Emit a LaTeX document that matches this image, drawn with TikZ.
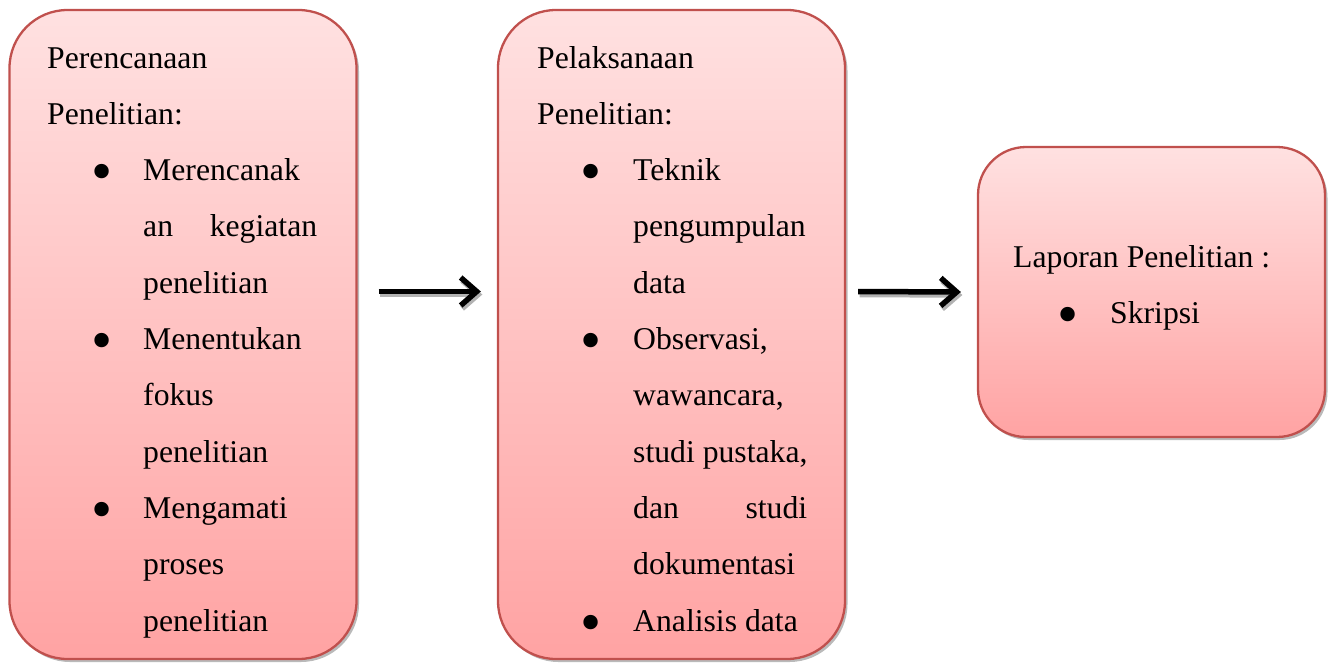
\documentclass[tikz,border=0pt]{standalone}
\usepackage{fontspec}
\setmainfont{Liberation Serif}
\usetikzlibrary{arrows.meta,shadows}
\definecolor{boxtop}{RGB}{255,225,225}
\definecolor{boxbottom}{RGB}{255,163,163}
\definecolor{boxline}{RGB}{192,80,77}
\tikzset{
  stagebox/.style={rounded corners=58pt, draw=boxline, line width=2.3pt,
    top color=boxtop, bottom color=boxbottom, minimum width=347pt, inner sep=0pt,
    drop shadow={shadow xshift=2.5pt, shadow yshift=-3pt, fill=black!45, opacity=.6}},
  flow/.style={line width=5.5pt, -{Straight Barb[length=16pt,width=28pt]}},
  flowshadow/.style={flow, draw=black!30},
  textline/.style={anchor=base west, inner sep=0pt},
  bulletdot/.style={anchor=base, inner sep=0pt}
}
\newcommand{\bigdot}{\scalebox{1.9}{•}}
\begin{document}
\begin{tikzpicture}[x=1pt,y=-1pt,font=\fontsize{31.7pt}{38pt}\selectfont]
\useasboundingbox (0,0) rectangle (1332,664);
% Draw the three stages
\node[stagebox, minimum height=649pt] (plan) at (183,334.5) {};
\node[stagebox, minimum height=649pt] (work) at (671.5,334.5) {};
\node[stagebox, minimum height=290pt, rounded corners=48pt] (report) at (1151.5,292) {};
% Draw the lines of the first stage
\foreach \i/\t in {0/Perencanaan, 1/Penelitian:}
  \node[textline] (plan\i) at (47,{68+56.3*\i}) {\t};
\foreach \i/\t in {2/Merencanak, 3/{\hbox to 174pt{an\hfill kegiatan}}, 4/penelitian,
    5/Menentukan, 6/fokus, 7/penelitian, 8/Mengamati, 9/proses, 10/penelitian}
  \node[textline] (plan\i) at (143,{68+56.3*\i}) {\t};
\foreach \i in {2,5,8}
  \node[bulletdot] (plandot\i) at (102,{79+56.3*\i}) {\bigdot};
% Draw the lines of the second stage
\foreach \i/\t in {0/Pelaksanaan, 1/Penelitian:}
  \node[textline] (work\i) at (537,{68+56.3*\i}) {\t};
\foreach \i/\t in {2/Teknik, 3/pengumpulan, 4/data, 5/{Observasi,}, 6/{wawancara,},
    7/{studi pustaka,}, 8/{\hbox to 174pt{dan\hfill studi}}, 9/dokumentasi, 10/Analisis data}
  \node[textline] (work\i) at (633,{68+56.3*\i}) {\t};
\foreach \i in {2,5,10}
  \node[bulletdot] (workdot\i) at (591,{79+56.3*\i}) {\bigdot};
% Draw the lines of the last stage
\node[textline] (report0) at (1013,267) {Laporan Penelitian :};
\node[textline] (report1) at (1110,323) {Skripsi};
\node[bulletdot] (reportdot) at (1068,334) {\bigdot};
% Draw the arrows between the stages
\draw[flowshadow, transform canvas={shift={(1.5pt,-3pt)}}] ([shift={(21,-43)}]plan.east) -- ([shift={(-16,-43)}]work.west);
\draw[flow] ([shift={(21,-43)}]plan.east) -- ([shift={(-16,-43)}]work.west);
\draw[flowshadow, transform canvas={shift={(1.5pt,-3pt)}}] ([shift={(12,-43)}]work.east) -- ([xshift=-16]report.west);
\draw[flow] ([shift={(12,-43)}]work.east) -- ([xshift=-16]report.west);
\end{tikzpicture}
\end{document}
